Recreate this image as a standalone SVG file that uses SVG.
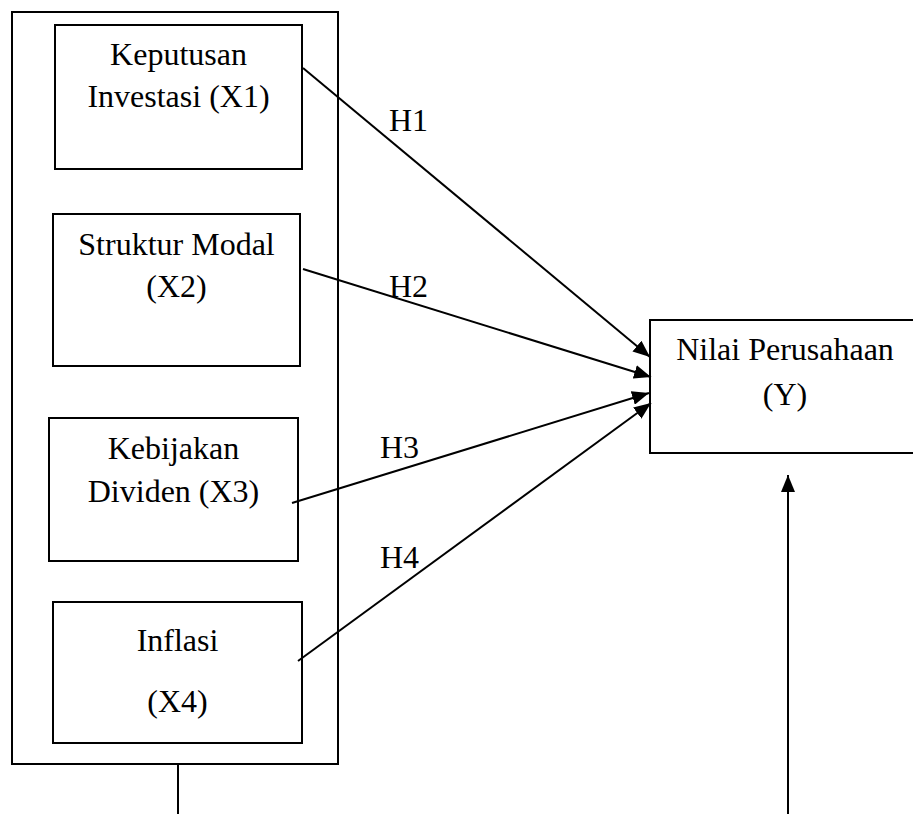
<svg xmlns="http://www.w3.org/2000/svg" width="913" height="814" viewBox="0 0 913 814">
<style>
.box{fill:#fff;stroke:#000;stroke-width:2}
.t{font-family:"Liberation Serif","Times New Roman",serif;font-size:32px;fill:#000;text-anchor:middle}
.lbl{font-family:"Liberation Serif","Times New Roman",serif;font-size:32px;fill:#000}
.c{stroke:#000;stroke-width:2;fill:none}
</style>
<defs>
<marker id="ah" markerUnits="userSpaceOnUse" markerWidth="18" markerHeight="14" refX="17" refY="7" orient="auto">
<path d="M0,0 L17,7 L0,14 Z" fill="#000"/>
</marker>
</defs>
<rect width="913" height="814" fill="#fff"/>
<g id="group">
<rect class="box" x="12" y="12" width="326" height="752"/>
</g>
<g id="x1">
<rect class="box" x="55" y="25" width="247" height="144"/>
<text class="t" x="178.5" y="65">Keputusan</text>
<text class="t" x="178.5" y="107">Investasi (X1)</text>
</g>
<g id="x2">
<rect class="box" x="53" y="214" width="247" height="152"/>
<text class="t" x="176.5" y="255">Struktur Modal</text>
<text class="t" x="176.5" y="297">(X2)</text>
</g>
<g id="x3">
<rect class="box" x="49" y="418" width="249" height="143"/>
<text class="t" x="173.5" y="459">Kebijakan</text>
<text class="t" x="173.5" y="502">Dividen (X3)</text>
</g>
<g id="x4">
<rect class="box" x="53" y="602" width="249" height="141"/>
<text class="t" x="177.5" y="651">Inflasi</text>
<text class="t" x="177.5" y="712">(X4)</text>
</g>
<g id="y">
<rect class="box" x="650" y="320" width="280" height="133"/>
<text class="t" x="785" y="360">Nilai Perusahaan</text>
<text class="t" x="785" y="405">(Y)</text>
</g>
<g id="connectors">
<line class="c" x1="303" y1="68" x2="650" y2="357" marker-end="url(#ah)"/>
<line class="c" x1="303" y1="269" x2="651" y2="377" marker-end="url(#ah)"/>
<line class="c" x1="292" y1="503" x2="649" y2="393" marker-end="url(#ah)"/>
<line class="c" x1="298" y1="661" x2="651" y2="403" marker-end="url(#ah)"/>
<line class="c" x1="178" y1="764" x2="178" y2="814"/>
<line class="c" x1="788" y1="814" x2="788" y2="475" marker-end="url(#ah)"/>
</g>
<g id="labels">
<text class="lbl" x="389" y="131">H1</text>
<text class="lbl" x="389" y="297">H2</text>
<text class="lbl" x="380" y="458">H3</text>
<text class="lbl" x="380" y="568">H4</text>
</g>
</svg>
